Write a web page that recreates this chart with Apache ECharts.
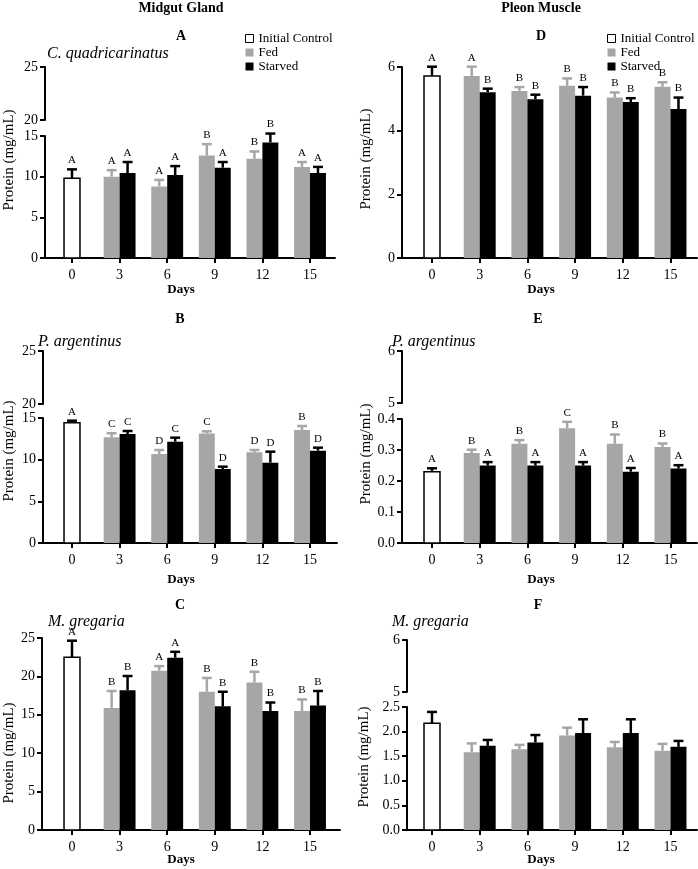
<!DOCTYPE html>
<html><head><meta charset="utf-8">
<script src="https://cdn.jsdelivr.net/npm/echarts@6/dist/echarts.min.js"></script>
<style>html,body{margin:0;padding:0;background:#fff}#c{width:698px;height:869px}</style>
</head><body><div id="c"></div>
<script>
// ---------- DATA ----------
const days = ['0', '3', '6', '9', '12', '15'];

// Panel A  (C. quadricarinatus, midgut gland)
const A_control_mean = [9.8];
const A_control_sem = [1.1];
const A_control_sig = ['A'];
const A_fed_mean = [10.0, 8.8, 12.6, 12.2, 11.2];
const A_fed_sem = [0.8, 0.8, 1.4, 0.9, 0.6];
const A_fed_sig = ['A', 'A', 'B', 'B', 'A'];
const A_starved_mean = [10.45, 10.2, 11.1, 14.2, 10.45];
const A_starved_sem = [1.35, 1.1, 0.7, 1.1, 0.75];
const A_starved_sig = ['A', 'A', 'A', 'B', 'A'];
const A_ticks_lower = [0, 5, 10, 15];
const A_ticks_upper = [20, 25];

// Panel B  (P. argentinus, midgut gland)
const B_control_mean = [14.44];
const B_control_sem = [0.24];
const B_control_sig = ['A'];
const B_fed_mean = [12.69, 10.68, 13.15, 10.89, 13.56];
const B_fed_sem = [0.48, 0.48, 0.25, 0.27, 0.48];
const B_fed_sig = ['C', 'D', 'C', 'D', 'B'];
const B_starved_mean = [13.08, 12.16, 8.88, 9.64, 11.08];
const B_starved_sem = [0.36, 0.48, 0.28, 1.32, 0.36];
const B_starved_sig = ['C', 'C', 'D', 'D', 'D'];
const B_ticks_lower = [0, 5, 10, 15];
const B_ticks_upper = [20, 25];

// Panel C  (M. gregaria, midgut gland)
const C_control_mean = [22.5];
const C_control_sem = [2.15];
const C_control_sig = ['A'];
const C_fed_mean = [15.9, 20.74, 18.0, 19.2, 15.5];
const C_fed_sem = [2.2, 0.6, 1.8, 1.4, 1.5];
const C_fed_sig = ['B', 'A', 'B', 'B', 'B'];
const C_starved_mean = [18.2, 22.44, 16.1, 15.5, 16.2];
const C_starved_sem = [1.85, 0.76, 1.9, 1.1, 1.9];
const C_starved_sig = ['B', 'A', 'B', 'B', 'B'];
const C_ticks = [0, 5, 10, 15, 20, 25];

// Panel D  (C. quadricarinatus, pleon muscle)
const D_control_mean = [5.72];
const D_control_sem = [0.29];
const D_control_sig = ['A'];
const D_fed_mean = [5.72, 5.25, 5.41, 5.04, 5.38];
const D_fed_sem = [0.29, 0.12, 0.23, 0.16, 0.14];
const D_fed_sig = ['A', 'B', 'B', 'B', 'B'];
const D_starved_mean = [5.21, 4.99, 5.10, 4.90, 4.68];
const D_starved_sem = [0.11, 0.14, 0.27, 0.12, 0.36];
const D_starved_sig = ['B', 'B', 'B', 'B', 'B'];
const D_ticks = [0, 2, 4, 6];

// Panel E  (P. argentinus, pleon muscle)
const E_control_mean = [0.23];
const E_control_sem = [0.011];
const E_control_sig = ['A'];
const E_fed_mean = [0.29, 0.32, 0.37, 0.32, 0.31];
const E_fed_sem = [0.011, 0.012, 0.021, 0.03, 0.011];
const E_fed_sig = ['B', 'B', 'C', 'B', 'B'];
const E_starved_mean = [0.25, 0.25, 0.25, 0.23, 0.24];
const E_starved_sem = [0.011, 0.011, 0.011, 0.012, 0.011];
const E_starved_sig = ['A', 'A', 'A', 'A', 'A'];
const E_ticks_lower = [0, 0.1, 0.2, 0.3, 0.4];
const E_ticks_upper = [5, 6];

// Panel F  (M. gregaria, pleon muscle)
const F_control_mean = [2.17];
const F_control_sem = [0.23];
const F_control_sig = [''];
const F_fed_mean = [1.58, 1.64, 1.92, 1.68, 1.61];
const F_fed_sem = [0.18, 0.09, 0.16, 0.11, 0.14];
const F_fed_sig = ['', '', '', '', ''];
const F_starved_mean = [1.71, 1.78, 1.97, 1.97, 1.69];
const F_starved_sem = [0.12, 0.15, 0.28, 0.28, 0.12];
const F_starved_sig = ['', '', '', '', ''];
const F_ticks_lower = [0, 0.5, 1.0, 1.5, 2.0, 2.5];
const F_ticks_upper = [5, 6];

// ---------- STYLE ----------
const FONT = '"Liberation Serif", "Times New Roman", serif';
const GREY = '#a6a6a6';
const BLACK = '#000000';

const panels = [
  { ctrl: [A_control_mean, A_control_sem, A_control_sig], fed: [A_fed_mean, A_fed_sem, A_fed_sig], stv: [A_starved_mean, A_starved_sem, A_starved_sig],
    lower: A_ticks_lower, upper: A_ticks_upper, dec: 0,
    axisX: 45, right: 335, c0: 72, step: 47.6, lowTop: 136, lowBot: 258, upTop: 67, upBot: 120 },
  { ctrl: [B_control_mean, B_control_sem, B_control_sig], fed: [B_fed_mean, B_fed_sem, B_fed_sig], stv: [B_starved_mean, B_starved_sem, B_starved_sig],
    lower: B_ticks_lower, upper: B_ticks_upper, dec: 0,
    axisX: 43, right: 337, c0: 72, step: 47.6, lowTop: 418, lowBot: 543, upTop: 351, upBot: 404 },
  { ctrl: [C_control_mean, C_control_sem, C_control_sig], fed: [C_fed_mean, C_fed_sem, C_fed_sig], stv: [C_starved_mean, C_starved_sem, C_starved_sig],
    lower: C_ticks, upper: null, dec: 0,
    axisX: 42, right: 340, c0: 72, step: 47.6, lowTop: 638, lowBot: 830 },
  { ctrl: [D_control_mean, D_control_sem, D_control_sig], fed: [D_fed_mean, D_fed_sem, D_fed_sig], stv: [D_starved_mean, D_starved_sem, D_starved_sig],
    lower: D_ticks, upper: null, dec: 0,
    axisX: 402, right: 697, c0: 432, step: 47.7, lowTop: 67, lowBot: 258 },
  { ctrl: [E_control_mean, E_control_sem, E_control_sig], fed: [E_fed_mean, E_fed_sem, E_fed_sig], stv: [E_starved_mean, E_starved_sem, E_starved_sig],
    lower: E_ticks_lower, upper: E_ticks_upper, dec: 1,
    axisX: 402, right: 697, c0: 432, step: 47.7, lowTop: 419, lowBot: 543, upTop: 351, upBot: 403 },
  { ctrl: [F_control_mean, F_control_sem, F_control_sig], fed: [F_fed_mean, F_fed_sem, F_fed_sig], stv: [F_starved_mean, F_starved_sem, F_starved_sig],
    lower: F_ticks_lower, upper: F_ticks_upper, dec: 1,
    axisX: 407, right: 697, c0: 432, step: 47.7, lowTop: 707, lowBot: 830, upTop: 640, upBot: 692 }
];

const grids = [], xAxes = [], yAxes = [], series = [];

function yAxisStyle(ticks, dec, gi) {
  const iv = +(ticks[1] - ticks[0]).toFixed(6);
  return {
    type: 'value', gridIndex: gi, min: ticks[0], max: ticks[ticks.length - 1], interval: iv,
    axisLine: { show: true, onZero: false, lineStyle: { color: BLACK, width: 2 } },
    axisTick: { show: true, length: 5, lineStyle: { color: BLACK, width: 2 } },
    axisLabel: { color: BLACK, fontFamily: FONT, fontSize: 14, margin: 7,
      formatter: v => dec ? v.toFixed(dec) : String(v) },
    splitLine: { show: false }
  };
}

function renderFactory(kind, sigs) {
  return function (params, api) {
    const ci = api.value(0), m = api.value(1), s = api.value(2);
    const base = api.coord([ci, 0]);
    const top = api.coord([ci, m]);
    const err = api.coord([ci, m + s]);
    const band = api.size([1, 0])[0];
    const bw = band * 0.335;
    let x0;
    if (kind === 'fed') x0 = base[0] - bw;
    else if (kind === 'starved') x0 = base[0];
    else x0 = base[0] - bw / 2;
    const xc = x0 + bw / 2;
    const capW = bw * 0.62;
    const fill = kind === 'fed' ? GREY : (kind === 'starved' ? BLACK : '#ffffff');
    const ecol = kind === 'fed' ? GREY : BLACK;
    const children = [
      { type: 'line', shape: { x1: xc, y1: top[1], x2: xc, y2: err[1] }, style: { stroke: ecol, lineWidth: 2.5 } },
      { type: 'line', shape: { x1: xc - capW / 2, y1: err[1], x2: xc + capW / 2, y2: err[1] }, style: { stroke: ecol, lineWidth: 2.5 } },
      { type: 'rect', shape: { x: x0, y: top[1], width: bw, height: base[1] - top[1] },
        style: kind === 'control' ? { fill: '#fff', stroke: BLACK, lineWidth: 1.5 } : { fill: fill } }
    ];
    const sg = sigs[params.dataIndex];
    if (sg) {
      children.push({ type: 'text', x: xc, y: err[1] - 3.5,
        style: { text: sg, textAlign: 'center', textVerticalAlign: 'bottom', font: '11px ' + FONT, fill: BLACK } });
    }
    return { type: 'group', children };
  };
}

panels.forEach(p => {
  const gF = grids.length;
  grids.push({ left: p.axisX, top: p.lowTop, width: p.right - p.axisX, height: p.lowBot - p.lowTop });
  xAxes.push({ type: 'value', gridIndex: gF, min: 0, max: 1,
    axisLine: { show: true, onZero: false, lineStyle: { color: BLACK, width: 2 } },
    axisTick: { show: false }, axisLabel: { show: false }, splitLine: { show: false } });
  yAxes.push(yAxisStyle(p.lower, p.dec, gF));

  const gD = grids.length;
  grids.push({ left: p.c0 - p.step / 2, top: p.lowTop, width: p.step * 6, height: p.lowBot - p.lowTop });
  const xi = xAxes.length;
  xAxes.push({ type: 'category', gridIndex: gD, data: days,
    axisLine: { show: false },
    axisTick: { show: true, alignWithLabel: true, length: 5, lineStyle: { color: BLACK, width: 2 } },
    axisLabel: { color: BLACK, fontFamily: FONT, fontSize: 14, margin: 10 },
    splitLine: { show: false } });
  const yi = yAxes.length;
  yAxes.push({ type: 'value', gridIndex: gD, show: false, min: p.lower[0], max: p.lower[p.lower.length - 1],
    splitLine: { show: false } });

  if (p.upper) {
    const gU = grids.length;
    grids.push({ left: p.axisX, top: p.upTop, width: 1, height: p.upBot - p.upTop });
    xAxes.push({ type: 'value', gridIndex: gU, show: false, min: 0, max: 1 });
    yAxes.push(yAxisStyle(p.upper, 0, gU));
  }

  const groups = [
    ['control', 'Initial Control', p.ctrl, 0, { color: '#fff', borderColor: BLACK, borderWidth: 1 }],
    ['fed', 'Fed', p.fed, 1, { color: GREY }],
    ['starved', 'Starved', p.stv, 1, { color: BLACK }]
  ];
  groups.forEach(([kind, name, arr, off, st]) => {
    const data = arr[0].map((v, i) => [i + off, v, arr[1][i]]);
    series.push({
      type: 'custom', name, xAxisIndex: xi, yAxisIndex: yi, clip: false,
      itemStyle: st, encode: { x: 0, y: 1 }, data,
      renderItem: renderFactory(kind, arr[2])
    });
  });
});

function legendAt(left) {
  return {
    orient: 'vertical', left, top: 32, itemWidth: 8, itemHeight: 8, itemGap: 1, padding: 0,
    selectedMode: false,
    textStyle: { fontFamily: FONT, fontSize: 13, color: BLACK, lineHeight: 12 },
    data: [
      { name: 'Initial Control', icon: 'rect', itemStyle: { color: '#fff', borderColor: BLACK, borderWidth: 1 } },
      { name: 'Fed', icon: 'rect', itemStyle: { color: GREY } },
      { name: 'Starved', icon: 'rect', itemStyle: { color: BLACK } }
    ]
  };
}

function txt(t, x, y, font, extra) {
  return Object.assign({ type: 'text', x, y,
    style: { text: t, font, fill: BLACK, textAlign: 'center', textVerticalAlign: 'middle' } }, extra || {});
}
function ltxt(t, x, y, font) {
  return { type: 'text', x, y, style: { text: t, font, fill: BLACK, textAlign: 'left', textVerticalAlign: 'middle' } };
}
const bold14 = 'bold 14px ' + FONT;
const ital16 = 'italic 16px ' + FONT;
const bold13 = 'bold 13px ' + FONT;
const reg15 = '15px ' + FONT;
const graphics = [
  txt('Midgut Gland', 181, 8, bold14),
  txt('Pleon Muscle', 541, 8, bold14),
  txt('A', 181, 36, bold14), txt('D', 541, 36, bold14),
  txt('B', 180, 319, bold14), txt('E', 538, 319, bold14),
  txt('C', 180, 605, bold14), txt('F', 538, 605, bold14),
  ltxt('C. quadricarinatus', 47, 54, ital16),
  ltxt('P. argentinus', 38, 342, ital16),
  ltxt('P. argentinus', 392, 342, ital16),
  ltxt('M. gregaria', 48, 622, ital16),
  ltxt('M. gregaria', 392, 622, ital16),
  txt('Days', 181, 290, bold13), txt('Days', 541, 290, bold13),
  txt('Days', 181, 580, bold13), txt('Days', 541, 580, bold13),
  txt('Days', 181, 860, bold13), txt('Days', 541, 860, bold13),
  txt('Protein (mg/mL)', 9, 160, reg15, { rotation: Math.PI / 2 }),
  txt('Protein (mg/mL)', 9, 451, reg15, { rotation: Math.PI / 2 }),
  txt('Protein (mg/mL)', 9, 753, reg15, { rotation: Math.PI / 2 }),
  txt('Protein (mg/mL)', 366, 159, reg15, { rotation: Math.PI / 2 }),
  txt('Protein (mg/mL)', 366, 454, reg15, { rotation: Math.PI / 2 }),
  txt('Protein (mg/mL)', 364, 757, reg15, { rotation: Math.PI / 2 })
];

const chart = echarts.init(document.getElementById('c'), null, { renderer: 'canvas' });
chart.setOption({
  backgroundColor: '#fff',
  animation: false,
  grid: grids, xAxis: xAxes, yAxis: yAxes, series,
  legend: [legendAt(245), legendAt(607)],
  graphic: graphics
});
</script></body></html>
